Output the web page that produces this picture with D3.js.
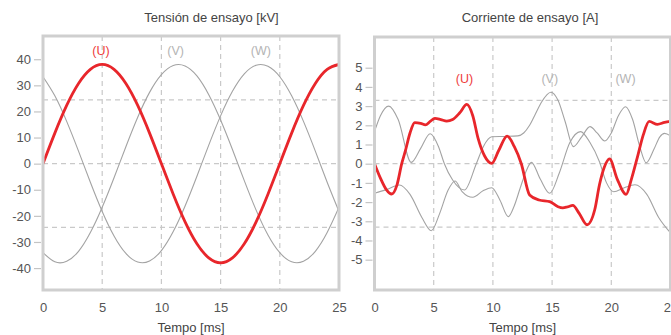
<!DOCTYPE html>
<html><head><meta charset="utf-8">
<script src="https://cdn.jsdelivr.net/npm/d3@7"></script>
<style>html,body{margin:0;padding:0;background:#fff;}svg{display:block;}</style>
</head><body>
<svg id="c" width="671" height="335"></svg>
<script>
// ---------- Data ----------
const timeTicks = [0, 5, 10, 15, 20, 25];
const gridTimes = [5, 10, 15, 20];

// Left chart: Tensión de ensayo [kV], sampled every 1 ms
const voltTime = d3.range(0, 26, 1);
const voltU = [0, 11.7, 22.3, 30.7, 36.1, 38, 36.1, 30.7, 22.3, 11.7, 0, -11.7, -22.3, -30.7, -36.1, -38, -36.1, -30.7, -22.3, -11.7, 0, 11.7, 22.3, 30.7, 36.1, 38];
const voltV = [-34.1, -37.6, -37.4, -33.6, -26.4, -16.7, -5.4, 6.5, 17.8, 27.3, 34.1, 37.6, 37.4, 33.6, 26.4, 16.7, 5.4, -6.5, -17.8, -27.3, -34.1, -37.6, -37.4, -33.6, -26.4, -16.7];
const voltW = [33.3, 26.0, 16.2, 4.8, -7.1, -18.3, -27.7, -34.4, -37.7, -37.3, -33.3, -26.0, -16.2, -4.8, 7.1, 18.3, 27.7, 34.4, 37.7, 37.3, 33.3, 26.0, 16.2, 4.8, -7.1, -18.3];
const voltTicks = [-40, -30, -20, -10, 0, 10, 20, 30, 40];
const voltGrid = [-24.4, 0, 24.4];

// Right chart: Corriente de ensayo [A]
const curUTime = [0, 0.5, 1.0, 1.45, 1.9, 2.3, 2.6, 3.0, 3.4, 3.9, 4.3, 4.7, 5.1, 5.6, 6.1, 6.6, 7.2, 7.8, 8.3, 8.75, 9.3, 9.9, 10.5, 11.2, 11.8, 12.4, 13.1, 13.9, 14.8, 15.5, 15.9, 16.3, 16.75, 17.3, 17.95, 18.6, 19.0, 19.4, 19.85, 20.5, 21.25, 21.7, 22.25, 22.7, 23.2, 23.9, 24.5, 25];
const curU =     [0, -0.75, -1.35, -1.58, -1.1, 0, 0.65, 1.6, 2.14, 2.1, 2.02, 2.2, 2.36, 2.3, 2.22, 2.3, 2.65, 3.09, 2.5, 1.32, 0.4, 0.02, 0.7, 1.44, 0.9, 0, -1.63, -1.89, -1.98, -2.24, -2.3, -2.25, -2.17, -2.6, -3.18, -2.4, -1.1, -0.2, 0.25, -0.8, -1.6, -0.8, 0.45, 1.5, 2.2, 2.05, 2.15, 2.2];
const curVTime = [0, 0.5, 1.2, 2.0, 3.1, 3.9, 4.7, 5.4, 5.9, 6.6, 7.6, 8.6, 9.2, 9.9, 11.0, 12.1, 12.6, 13.1, 13.6, 14.1, 14.9, 15.5, 16.1, 16.8, 17.5, 18.2, 18.8, 19.45, 20.0, 20.6, 21.2, 21.8, 22.4, 22.95, 23.6, 24.1, 24.5, 25];
const curV =     [1.67, 2.5, 3.0, 2.3, 0.07, 0.8, 1.56, 0.9, 0.0, -0.85, -1.37, 0, 0.9, 1.4, 1.42, 1.45, 1.6, 2.0, 2.6, 3.2, 3.72, 3.3, 2.2, 0.89, 1.4, 1.93, 1.6, 1.18, 1.6, 2.5, 2.97, 2.3, 0.9, 0.05, 0.75, 1.4, 1.58, 1.45];
const curWTime = [0, 1.0, 2.1, 3.0, 4.0, 4.8, 5.5, 6.2, 6.8, 7.4, 8.3, 9.2, 9.9, 10.6, 11.3, 11.8, 12.3, 12.8, 13.25, 14.0, 14.8, 15.6, 16.5, 17.4, 18.2, 19.0, 19.6, 20.2, 21.1, 22.0, 23.0, 24.0, 25];
const curW =     [-1.54, -1.35, -1.11, -1.6, -2.8, -3.49, -2.6, -1.4, -0.9, -1.45, -1.75, -1.4, -1.25, -1.9, -2.76, -2.2, -1.28, -0.4, 0.07, -0.8, -1.54, -0.5, 1.1, 1.67, 1.1, 0.1, -1.0, -1.46, -1.25, -1.1, -1.6, -2.8, -3.6];
const curTicks = [-5, -4, -3, -2, -1, 0, 1, 2, 3, 4, 5];
const curGrid = [-3.3, 0, 3.3];

const phaseLabels = ["(U)", "(V)", "(W)"];
const voltLabelTimes = [4.9, 11.2, 18.4];
const curLabelTimes = [7.6, 14.8, 21.2];

// ---------- Styles ----------
const RED = "#e8262b", GRAY = "#a3a3a3";
const FONT = "'Liberation Sans', Arial, sans-serif";
const svg = d3.select("#c");
const plainFmt = d => String(d);

function panel(opts) {
  const x = d3.scaleLinear().domain([0, 25]).range([opts.x0, opts.x1]);
  const y = d3.scaleLinear().domain(opts.yDomain).range([opts.yBottom, opts.yTop]);
  const g = svg.append("g");
  const clipId = "clip" + opts.id;
  svg.append("clipPath").attr("id", clipId).append("rect")
    .attr("x", opts.x0).attr("y", opts.yTop).attr("width", opts.x1 - opts.x0).attr("height", opts.yBottom - opts.yTop);

  // grid
  g.selectAll(".vg").data(gridTimes).join("line")
    .attr("x1", d => x(d)).attr("x2", d => x(d)).attr("y1", opts.yTop).attr("y2", opts.yBottom)
    .attr("stroke", "#c9c9c9").attr("stroke-width", 1.2).attr("stroke-dasharray", "5,4");
  g.selectAll(".hg").data(opts.grid).join("line")
    .attr("x1", opts.x0).attr("x2", opts.x1).attr("y1", d => y(d)).attr("y2", d => y(d))
    .attr("stroke", "#c9c9c9").attr("stroke-width", 1.2).attr("stroke-dasharray", "5,4");

  // y axis
  const yAxis = d3.axisLeft(y).tickValues(opts.yTicks).tickSize(7).tickPadding(3).tickFormat(plainFmt);
  const ya = g.append("g").attr("transform", `translate(${opts.x0 - 2},0)`).call(yAxis);
  ya.select(".domain").remove();
  ya.selectAll("line").attr("stroke", "#c4c4c4").attr("stroke-width", 1.2);
  ya.selectAll("text").attr("fill", "#555").style("font", `13px ${FONT}`);

  // x axis
  const xAxis = d3.axisBottom(x).tickValues(timeTicks).tickSize(0).tickPadding(13).tickFormat(plainFmt);
  const xa = g.append("g").attr("transform", `translate(0,${opts.yBottom})`).call(xAxis);
  xa.select(".domain").remove();
  xa.selectAll("text").attr("fill", "#555").style("font", `13px ${FONT}`);

  // lines
  const lg = g.append("g").attr("clip-path", `url(#${clipId})`);
  opts.series.forEach(s => {
    const pts = s.t.map((t, i) => [t, s.v[i]]);
    lg.append("path").datum(pts)
      .attr("d", d3.line().x(d => x(d[0])).y(d => y(d[1])).curve(opts.curve))
      .attr("fill", "none").attr("stroke", s.color).attr("stroke-width", s.w)
      .attr("stroke-linejoin", "round");
  });

  // frame
  g.append("rect").attr("x", opts.x0).attr("y", opts.yTop)
    .attr("width", opts.x1 - opts.x0).attr("height", opts.yBottom - opts.yTop)
    .attr("fill", "none").attr("stroke", "#cfcfcf").attr("stroke-width", 3);

  // phase labels
  g.selectAll(".pl").data(phaseLabels).join("text")
    .attr("x", (d, i) => x(opts.labelTimes[i])).attr("y", y(opts.labelValue))
    .attr("text-anchor", "middle").style("font", `12.5px ${FONT}`)
    .attr("fill", (d, i) => i === 0 ? "#ee3b3b" : "#b4b4b4").text(d => d);

  // title and x label
  g.append("text").attr("x", opts.titleX).attr("y", 22).attr("text-anchor", "middle")
    .style("font", `13px ${FONT}`).attr("fill", "#444").text(opts.title);
  g.append("text").attr("x", (opts.x0 + opts.x1) / 2).attr("y", 332).attr("text-anchor", "middle")
    .style("font", `13px ${FONT}`).attr("fill", "#444").text("Tempo [ms]");
}

panel({
  id: "L", x0: 43, x1: 339, yTop: 36, yBottom: 290, yDomain: [-48.4, 48.9],
  yTicks: voltTicks, grid: voltGrid, curve: d3.curveNatural,
  series: [
    {t: voltTime, v: voltV, color: GRAY, w: 1.1},
    {t: voltTime, v: voltW, color: GRAY, w: 1.1},
    {t: voltTime, v: voltU, color: RED, w: 2.8}
  ],
  labelTimes: voltLabelTimes, labelValue: 41.5,
  title: "Tensión de ensayo [kV]", titleX: 211.5
});

panel({
  id: "R", x0: 374.5, x1: 670.5, yTop: 37, yBottom: 290, yDomain: [-6.58, 6.6],
  yTicks: curTicks, grid: curGrid, curve: d3.curveMonotoneX,
  series: [
    {t: curVTime, v: curV, color: GRAY, w: 1.1},
    {t: curWTime, v: curW, color: GRAY, w: 1.1},
    {t: curUTime, v: curU, color: RED, w: 2.8}
  ],
  labelTimes: curLabelTimes, labelValue: 4.2,
  title: "Corriente de ensayo [A]", titleX: 530
});
</script>
</body></html>
